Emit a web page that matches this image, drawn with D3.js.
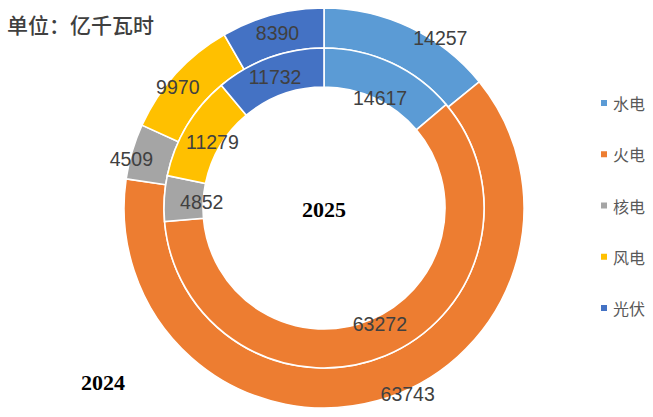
<!DOCTYPE html>
<html>
<head>
<meta charset="utf-8">
<script src="https://cdn.jsdelivr.net/npm/d3@7"></script>
<style>
  body { margin: 0; background: #fff; }
  svg { display: block; }
</style>
</head>
<body>
<svg id="chart" width="653" height="417"></svg>
<script>
// data
const categories = ['水电', '火电', '核电', '风电', '光伏'];
const values2024 = [14257, 63743, 4509, 9970, 8390];
const values2025 = [14617, 63272, 4852, 11279, 11732];
const colors = ['#5B9BD5', '#ED7D31', '#A5A5A5', '#FFC000', '#4472C4'];

// labels were dragged a bit off their centroids in the original
const nudge2024 = [[39, -7], [36, 12], [-20, 2], [-13, 0], [0, -1]];
const nudge2025 = [[-3, 17], [2, -14], [18, 2], [9, 6], [-1, 1]];

const width = 653, height = 417;
const cx = 324, cy = 208;

const svg = d3.select('#chart');
const g = svg.append('g').attr('transform', `translate(${cx},${cy})`);

const pie = d3.pie().sort(null).value(d => d);

const outerArc = d3.arc().innerRadius(160).outerRadius(200);
const innerArc = d3.arc().innerRadius(121).outerRadius(160);

function ring(values, arc, nudge, cls) {
  const arcs = pie(values);
  const rg = g.append('g').attr('class', cls);
  rg.selectAll('path')
    .data(arcs)
    .join('path')
    .attr('d', arc)
    .attr('fill', (d, i) => colors[i])
    .attr('stroke', '#fff')
    .attr('stroke-width', 1.6);
  rg.selectAll('text')
    .data(arcs)
    .join('text')
    .attr('x', (d, i) => arc.centroid(d)[0] + nudge[i][0])
    .attr('y', (d, i) => arc.centroid(d)[1] + nudge[i][1])
    .attr('text-anchor', 'middle')
    .attr('dominant-baseline', 'central')
    .attr('font-family', '"Liberation Sans", Arial, sans-serif')
    .attr('font-size', 19.5)
    .attr('fill', '#404040')
    .text(d => d.data);
}

ring(values2024, outerArc, nudge2024, 'ring2024');
ring(values2025, innerArc, nudge2025, 'ring2025');

// title
svg.append('text')
  .attr('x', 7)
  .attr('y', 33)
  .attr('font-family', '"Noto Sans CJK SC", sans-serif')
  .attr('font-size', 21)
  .attr('font-weight', 500)
  .attr('fill', '#404040')
  .text('单位：亿千瓦时');

// year labels
svg.append('text')
  .attr('x', 324)
  .attr('y', 217)
  .attr('text-anchor', 'middle')
  .attr('font-family', '"Liberation Serif", "Times New Roman", serif')
  .attr('font-weight', 'bold')
  .attr('font-size', 22)
  .attr('fill', '#000')
  .text('2025');

svg.append('text')
  .attr('x', 81)
  .attr('y', 390)
  .attr('font-family', '"Liberation Serif", "Times New Roman", serif')
  .attr('font-weight', 'bold')
  .attr('font-size', 22)
  .attr('fill', '#000')
  .text('2024');

// legend
const legendY = d3.scalePoint().domain(categories).range([103, 308]);
const legend = svg.append('g').selectAll('g')
  .data(categories)
  .join('g')
  .attr('transform', d => `translate(601,${legendY(d)})`);

legend.append('rect')
  .attr('x', 0).attr('y', -3)
  .attr('width', 6).attr('height', 6)
  .attr('fill', (d, i) => colors[i]);

legend.append('text')
  .attr('x', 12)
  .attr('y', 0)
  .attr('dominant-baseline', 'central')
  .attr('font-family', '"Noto Sans CJK SC", sans-serif')
  .attr('font-size', 16)
  .attr('fill', '#595959')
  .text(d => d);
</script>
</body>
</html>
